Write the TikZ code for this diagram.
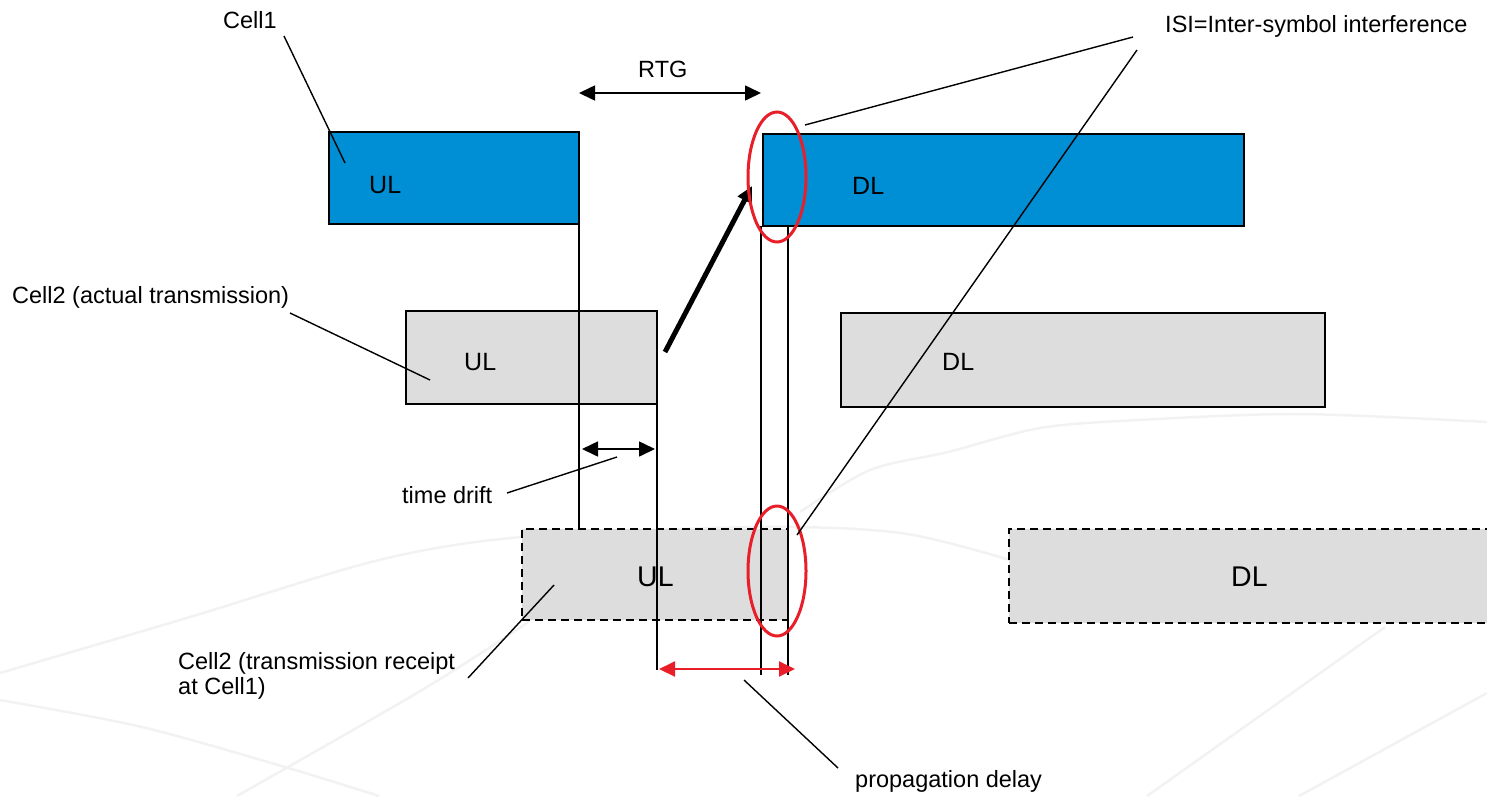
\documentclass[tikz,border=0pt]{standalone}
\usepackage{fontspec}
\setmainfont{Liberation Sans}
\usetikzlibrary{arrows.meta,shapes.geometric}
\definecolor{cellblue}{RGB}{0,142,212}
\definecolor{slotgray}{RGB}{221,221,221}
\definecolor{isired}{RGB}{232,30,40}
\definecolor{wmark}{RGB}{242,242,242}

\begin{document}
\begin{tikzpicture}[x=1pt,y=-1pt,
  slot/.style={draw=black, line width=1.8pt, anchor=north west, inner sep=0pt, outer sep=0pt},
  bluebox/.style={slot, fill=cellblue},
  graybox/.style={slot, fill=slotgray},
  rxbox/.style={slot, fill=slotgray, dash pattern=on 8pt off 5pt},
  lbl/.style={anchor=base west, inner sep=0pt, font=\fontsize{23.5}{25}\selectfont},
  slotlbl/.style={anchor=base west, inner sep=0pt, font=\fontsize{25}{28}\selectfont},
  bigslotlbl/.style={anchor=base west, inner sep=0pt, font=\fontsize{28.5}{32}\selectfont},
  lead/.style={draw=black, line width=1.4pt},
  tmark/.style={draw=black, line width=1.8pt},
  spanarrow/.style={draw=black, line width=1.6pt, {Triangle[length=16pt,width=15pt]}-{Triangle[length=16pt,width=15pt]}},
  redspan/.style={draw=isired, line width=2pt, {Triangle[length=16pt,width=15pt]}-{Triangle[length=16pt,width=15pt]}},
  ring/.style={ellipse, draw=isired, line width=3pt, minimum width=58pt, minimum height=130pt, inner sep=0pt},
  wm/.style={draw=wmark, line width=2.5pt}
]
\clip (0,0) rectangle (1487,796);

% faint background arcs
\draw[wm] plot[smooth] coordinates {(0,673) (190,617) (379,560) (522,537) (759,527) (901,533) (1010,560)};
\draw[wm] plot[smooth] coordinates {(800,512) (870,470) (948,452) (1040,428) (1138,420) (1300,414) (1487,422)};
\draw[wm] plot[smooth] coordinates {(0,700) (142,727) (285,767) (379,796)};
\draw[wm] plot[smooth] coordinates {(237,796) (417,693) (512,633) (530,620)};
\draw[wm] (1147,796) -- (1385,627);
\draw[wm] (1487,693) -- (1299,796);

% frame slots
\node[bluebox, minimum width=250pt, minimum height=92pt] (ul1) at (329,132) {};
\node[bluebox, minimum width=481pt, minimum height=92pt] (dl1) at (763,134) {};
\node[graybox, minimum width=251pt, minimum height=93pt] (ul2) at (406,311) {};
\node[graybox, minimum width=484pt, minimum height=94pt] (dl2) at (841,313) {};
\node[rxbox, minimum width=266pt, minimum height=91pt] (ul3) at (522,529) {};
\node[rxbox, minimum width=520pt, minimum height=94pt] (dl3) at (1009,529) {};

\node[slotlbl] (tul1) at (369,193) {UL};
\node[slotlbl] (tdl1) at (852,194) {DL};
\node[slotlbl] (tul2) at (464,370) {UL};
\node[slotlbl] (tdl2) at (942,370) {DL};
\node[bigslotlbl] (tul3) at (637,586) {UL};
\node[bigslotlbl] (tdl3) at (1231,586) {DL};

% timing marks
\coordinate (m761) at (761,226);
\coordinate (m788) at (788,226);
\draw[tmark] (ul1.south east) -- (ul1.south east |- ul3.north);
\draw[tmark] (ul2.south east) -- ++(0,266);
\draw[tmark] (m761) -- ++(0,449);
\draw[tmark] (m788) -- ++(0,449);

% spans
\coordinate (rtgL) at (579,93);
\coordinate (rtgR) at (761,93);
\draw[spanarrow] (rtgL) -- (rtgR);
\coordinate (tdL) at (582,449);
\coordinate (tdR) at (655,449);
\draw[spanarrow] (tdL) -- (tdR);
\coordinate (pdL) at (659,669);
\coordinate (pdR) at (795,669);
\draw[redspan] (pdL) -- (pdR);

% signal path
\coordinate (sigA) at (665,352);
\coordinate (sigB) at (752,186);
\draw[line width=5pt, -{Triangle[length=16pt,width=15pt]}] (sigA) -- (sigB);

% interference rings
\node[ring] (isiA) at (777,177) {};
\node[ring] (isiB) at (777,571) {};

% labels
\node[lbl] (cell1) at (223,28) {Cell1};
\node[lbl] (rtg) at (638,77) {RTG};
\node[lbl] (isi) at (1165,32) {ISI=Inter-symbol interference};
\node[lbl] (cell2a) at (12,303) {Cell2 (actual transmission)};
\node[lbl] (drift) at (402,503) {time drift};
\node[lbl, align=left] (cell2b) at (178,694) {Cell2 (transmission receipt\\at Cell1)};
\node[lbl] (prop) at (855,787) {propagation delay};

% leader lines
\coordinate (c1a) at (284,36);   \coordinate (c1b) at (345,163);
\coordinate (c2a) at (290,313);  \coordinate (c2b) at (430,380);
\coordinate (tda) at (507,493);  \coordinate (tdb) at (617,457);
\coordinate (c3a) at (468,678);  \coordinate (c3b) at (554,585);
\coordinate (pda) at (838,768);  \coordinate (pdb) at (744,680);
\coordinate (i1a) at (1133,37);  \coordinate (i1b) at (805,125);
\coordinate (i2a) at (1137,50);  \coordinate (i2b) at (797,535);
\draw[lead] (c1a) -- (c1b);
\draw[lead] (c2a) -- (c2b);
\draw[lead] (tda) -- (tdb);
\draw[lead] (c3a) -- (c3b);
\draw[lead] (pda) -- (pdb);
\draw[lead] (i1a) -- (i1b);
\draw[lead] (i2a) -- (i2b);
\end{tikzpicture}
\end{document}
